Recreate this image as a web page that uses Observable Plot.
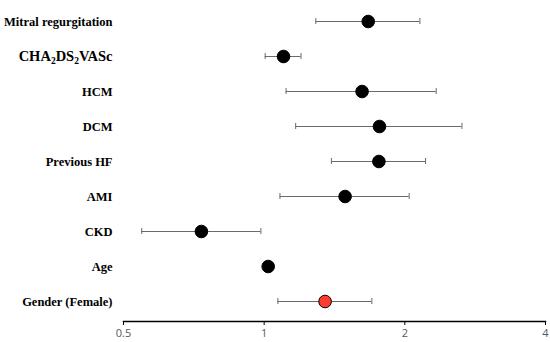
<!DOCTYPE html>
<html>
<head>
<meta charset="utf-8">
<script src="https://cdn.jsdelivr.net/npm/d3@7"></script>
<script src="https://cdn.jsdelivr.net/npm/@observablehq/plot@0.6"></script>
<style>
  html, body { margin: 0; padding: 0; background: #fff; }
  svg { display: block; }
</style>
</head>
<body>
<div id="chart"></div>
<script>
const factors = ["Mitral regurgitation", "CHA2DS2VASc", "HCM", "DCM", "Previous HF", "AMI", "CKD", "Age", "Gender (Female)"];
const estimate = [1.67, 1.10, 1.62, 1.765, 1.76, 1.49, 0.734, 1.02, 1.35];
const lower    = [1.29, 1.005, 1.114, 1.168, 1.393, 1.081, 0.547, 1.015, 1.07];
const upper    = [2.154, 1.199, 2.334, 2.65, 2.215, 2.043, 0.984, 1.025, 1.70];
const highlight = ["Gender (Female)"];
const xTicks = [0.5, 1, 2, 4];

const data = factors.map((f, i) => ({factor: f, est: estimate[i], lo: lower[i], hi: upper[i]}));

const step = 282 / 8;
const chart = Plot.plot({
  width: 550,
  height: 342,
  marginLeft: 123,
  marginRight: 5,
  marginTop: 4,
  marginBottom: 21,
  style: {background: "#fff"},
  x: {type: "log", domain: [0.5, 4], range: [123, 545]},
  y: {type: "band", domain: factors, range: [20 - step / 2, 302 + step / 2], paddingInner: 0.82, paddingOuter: 0.41, axis: null},
  marks: [
    Plot.ruleX([1], {y1: 4, y2: 321, stroke: "#7f7f7f", strokeWidth: 1.5}),
    Plot.frame({anchor: "bottom", stroke: "#000", strokeWidth: 1.5}),
    Plot.axisX({ticks: xTicks, tickFormat: d => String(d), tickSize: 4, tickPadding: 4, stroke: "#000", fill: "#595959", fontSize: 11, fontFamily: "Open Sans, Liberation Sans, sans-serif", label: null}),
    Plot.ruleY(data, {y: "factor", x1: "lo", x2: "hi", stroke: "#6a6a6a", strokeWidth: 1}),
    Plot.tickX(data, {y: "factor", x: "lo", stroke: "#6a6a6a", strokeWidth: 1}),
    Plot.tickX(data, {y: "factor", x: "hi", stroke: "#6a6a6a", strokeWidth: 1}),
    Plot.dot(data, {y: "factor", x: "est", r: 6.3, fill: d => highlight.includes(d.factor) ? "#ff3b2f" : "#000", stroke: "#000", strokeWidth: 1}),
    Plot.text(factors, {y: d => d, frameAnchor: "left", dx: -11, textAnchor: "end", text: d => d, fontFamily: "Liberation Serif, Times New Roman, serif", fontWeight: "bold", fontSize: 12.5, fill: "#000"})
  ]
});

// subscripts in CHA2DS2VASc
chart.querySelectorAll("text").forEach(t => {
  if (t.textContent === "CHA2DS2VASc") {
    t.textContent = "";
    t.setAttribute("font-size", "14.5");
    const parts = [["CHA", false], ["2", true], ["DS", false], ["2", true], ["VASc", false]];
    const ns = "http://www.w3.org/2000/svg";
    parts.forEach(([s, sub]) => {
      const ts = document.createElementNS(ns, "tspan");
      ts.textContent = s;
      if (sub) { ts.setAttribute("font-size", "9.5"); ts.setAttribute("baseline-shift", "-3"); }
      t.appendChild(ts);
    });
  }
});

document.getElementById("chart").appendChild(chart);
</script>
</body>
</html>
